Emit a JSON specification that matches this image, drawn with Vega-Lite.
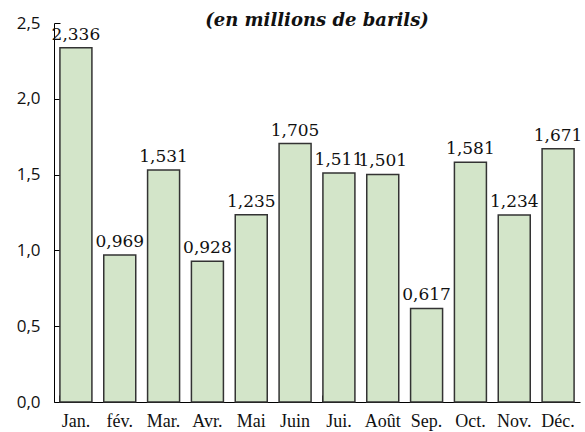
{
  "$schema": "https://vega.github.io/schema/vega-lite/v6.json",
  "autosize": "none",
  "width": 526,
  "height": 379,
  "padding": {"left": 54, "top": 23, "right": 5, "bottom": 30},
  "background": "white",
  "config": {
    "locale": {"number": {"decimal": ",", "thousands": " ", "grouping": [3], "currency": ["", " €"]}},
    "view": {"stroke": null}
  },
  "title": {
    "text": "(en millions de barils)",
    "font": "DejaVu Serif",
    "fontSize": 18,
    "fontWeight": "bold",
    "fontStyle": "italic",
    "color": "#111",
    "offset": -16,
    "anchor": "middle"
  },
  "data": {
    "values": [
      {"mois": "Jan.", "valeur": 2.336},
      {"mois": "fév.", "valeur": 0.969},
      {"mois": "Mar.", "valeur": 1.531},
      {"mois": "Avr.", "valeur": 0.928},
      {"mois": "Mai", "valeur": 1.235},
      {"mois": "Juin", "valeur": 1.705},
      {"mois": "Jui.", "valeur": 1.511},
      {"mois": "Août", "valeur": 1.501},
      {"mois": "Sep.", "valeur": 0.617},
      {"mois": "Oct.", "valeur": 1.581},
      {"mois": "Nov.", "valeur": 1.234},
      {"mois": "Déc.", "valeur": 1.671}
    ]
  },
  "encoding": {
    "x": {
      "field": "mois", "type": "nominal", "sort": null,
      "scale": {"paddingInner": 0.27, "paddingOuter": 0.135},
      "axis": {
        "title": null, "labelAngle": 0, "bandPosition": 0,
        "domainColor": "black", "tickColor": "black", "tickSize": -7,
        "labelFont": "Liberation Serif", "labelFontSize": 18, "labelColor": "#111",
        "labelPadding": 17
      }
    },
    "y": {
      "field": "valeur", "type": "quantitative",
      "scale": {"domain": [0, 2.5], "nice": false},
      "axis": {
        "title": null, "tickCount": 5, "format": ".1f",
        "domainColor": "black", "tickColor": "black", "tickSize": -6,
        "labelFont": "Open Sans", "labelFontSize": 17, "labelColor": "#111",
        "labelPadding": 20, "gridOpacity": 0
      }
    }
  },
  "layer": [
    {"mark": {"type": "bar", "fill": "#d3e5c9", "stroke": "#333", "strokeWidth": 1.5}},
    {
      "mark": {"type": "text", "baseline": "bottom", "dy": -4, "font": "DejaVu Serif", "fontSize": 17, "color": "#111"},
      "encoding": {"text": {"field": "valeur", "type": "quantitative", "format": ".3f"}}
    }
  ]
}
